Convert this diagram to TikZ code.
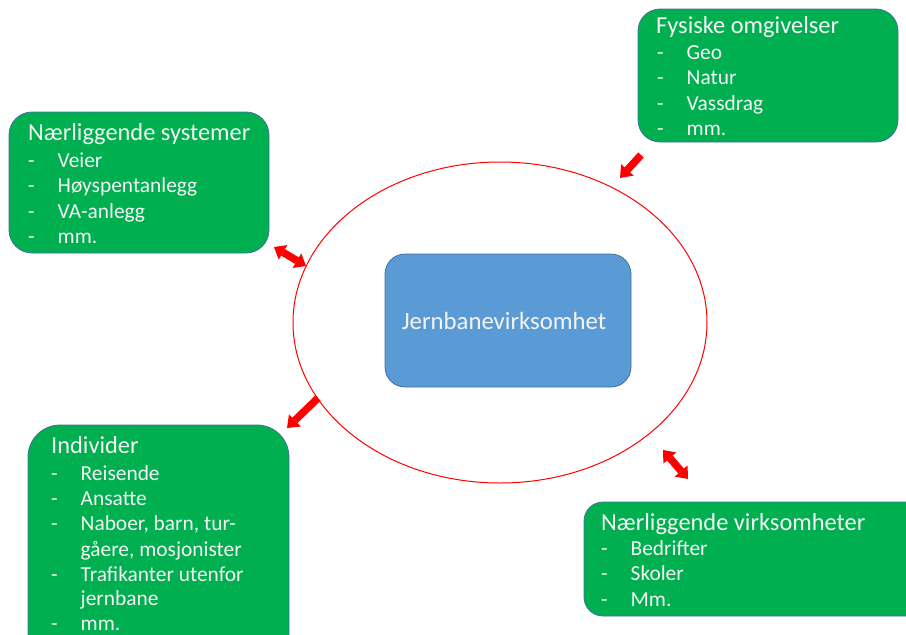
\documentclass[tikz,border=0pt]{standalone}
\usepackage{fontspec}
\setmainfont{Carlito}
\usetikzlibrary{arrows.meta,shapes.geometric}
\definecolor{boxgreen}{HTML}{00B050}
\definecolor{boxblue}{HTML}{5B9BD5}
\definecolor{edgeblue}{HTML}{41719C}
\definecolor{txtwhite}{HTML}{F4F4F4}
\newcommand{\dashitem}[1]{\makebox[29.5pt][l]{-}#1}
\begin{document}
\begin{tikzpicture}[x=1pt,y=-1pt,
  greenbox/.style={draw=edgeblue, line width=0.8pt, fill=boxgreen, inner sep=0pt, outer sep=0pt},
  ttl/.style={anchor=base west, inner sep=0pt, text=txtwhite, font=\fontsize{24.4}{28}\selectfont},
  itm/.style={anchor=base west, inner sep=0pt, text=txtwhite, font=\fontsize{21.4}{25}\selectfont},
  onearrow/.style={draw=red, line width=7.5pt, -{Triangle[width=17pt,length=11pt,line width=0pt]}},
  twoarrow/.style={draw=red, line width=7.5pt, {Triangle[width=17pt,length=10.5pt,line width=0pt]}-{Triangle[width=17pt,length=10.5pt,line width=0pt]}}
]
\useasboundingbox (0,0) rectangle (906,635);
\clip (0,0) rectangle (906,635);

% ring
\node[draw=red, line width=1pt, ellipse, minimum width=414pt, minimum height=321pt, inner sep=0pt] (ring) at (500,322.5) {};

% centre box
\node[draw=edgeblue, line width=0.8pt, fill=boxblue, rounded corners=20pt, minimum width=246pt, minimum height=133pt, inner sep=0pt,
      text=txtwhite, font=\fontsize{24.75}{28}\selectfont] (core) at (508,320.5) {\hspace*{-8pt}Jernbanevirksomhet};

% Fysiske omgivelser
\node[greenbox, rounded corners=22pt, minimum width=260pt, minimum height=133pt] (fys) at (768,75.5) {};
\node[ttl] (fys0) at (656,33) {Fysiske omgivelser};
\node[itm] (fys1) at (657,59) {\dashitem{Geo}};
\node[itm] (fys2) at (657,84.5) {\dashitem{Natur}};
\node[itm] (fys3) at (657,110) {\dashitem{Vassdrag}};
\node[itm] (fys4) at (657,135) {\dashitem{mm.}};

% Naerliggende systemer
\node[greenbox, rounded corners=23pt, minimum width=260pt, minimum height=141pt] (sys) at (139,182.5) {};
\node[ttl] (sys0) at (28,140) {Nærliggende systemer};
\node[itm] (sys1) at (28,167) {\dashitem{Veier}};
\node[itm] (sys2) at (28,192.5) {\dashitem{Høyspentanlegg}};
\node[itm] (sys3) at (28,218) {\dashitem{VA-anlegg}};
\node[itm] (sys4) at (28,243) {\dashitem{mm.}};

% Individer
\node[greenbox, rounded corners=32pt, minimum width=261pt, minimum height=240pt] (ind) at (158.5,545) {};
\node[ttl] (ind0) at (51,453) {Individer};
\node[itm] (ind1) at (51,480) {\dashitem{Reisende}};
\node[itm] (ind2) at (51,505) {\dashitem{Ansatte}};
\node[itm] (ind3) at (51,530.5) {\dashitem{Naboer, barn, tur-}};
\node[itm] (ind3b) at (80.5,556) {gåere, mosjonister};
\node[itm] (ind4) at (51,581) {\dashitem{Trafikanter utenfor}};
\node[itm] (ind4b) at (80.5,605.5) {jernbane};
\node[itm] (ind5) at (51,630.5) {\dashitem{mm.}};

% Naerliggende virksomheter
\node[greenbox, rounded corners=19pt, minimum width=341pt, minimum height=114pt] (vir) at (754.5,559) {};
\node[ttl] (vir0) at (601,530) {Nærliggende virksomheter};
\node[itm] (vir1) at (601,555) {\dashitem{Bedrifter}};
\node[itm] (vir2) at (601,580.5) {\dashitem{Skoler}};
\node[itm] (vir3) at (601,606) {\dashitem{Mm.}};

% arrow end points
\coordinate (a1s) at (641,155);
\coordinate (a1e) at (620,178);
\coordinate (a2s) at (274,247);
\coordinate (a2e) at (306,266);
\coordinate (a3s) at (318,398);
\coordinate (a3e) at (287,428);
\coordinate (a4s) at (663,450);
\coordinate (a4e) at (688,479);

\draw[onearrow] (a1s) -- (a1e);
\draw[twoarrow] (a2s) -- (a2e);
\draw[onearrow] (a3s) -- (a3e);
\draw[twoarrow] (a4s) -- (a4e);
\end{tikzpicture}
\end{document}
